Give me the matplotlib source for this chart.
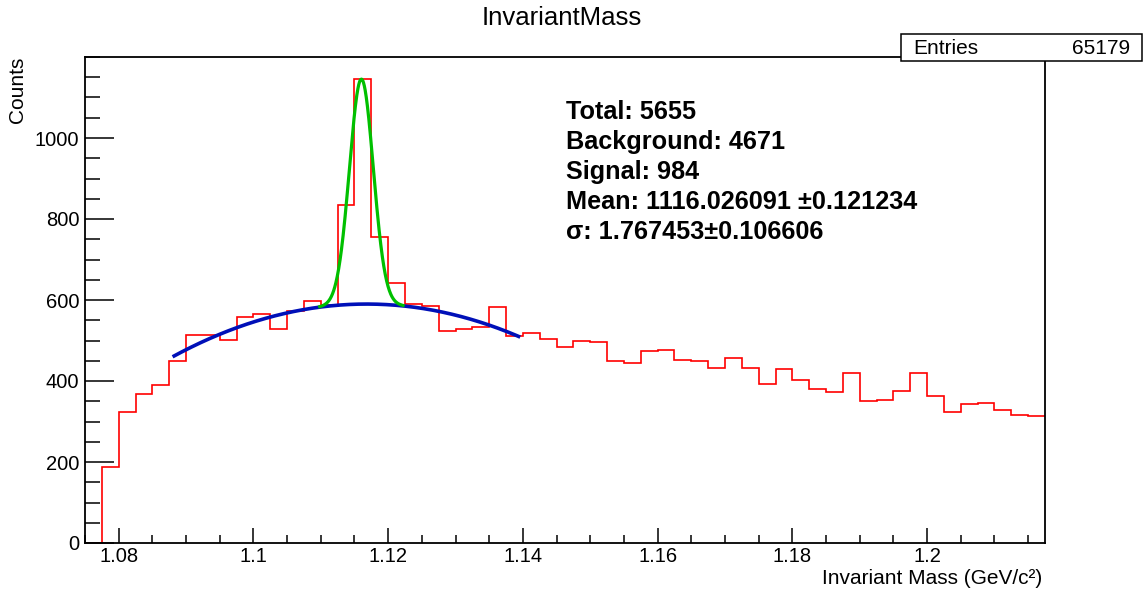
import numpy as np
import matplotlib.pyplot as plt
from matplotlib.ticker import FixedLocator, MultipleLocator
from matplotlib.patches import Rectangle

plt.rcParams['font.family'] = ['Liberation Sans', 'DejaVu Sans']

# histogram: 57 bins of 2.5 MeV starting at 1.075 GeV
x_lo = 1.075
bin_w = 0.0025
counts = [0, 187, 323, 367, 390, 449, 513, 513, 501, 557,
          565, 528, 574, 598, 588, 835, 1145, 756, 643, 590,
          586, 524, 528, 534, 583, 512, 518, 504, 485, 499,
          496, 450, 444, 474, 477, 452, 450, 432, 458, 433,
          393, 429, 402, 380, 372, 420, 351, 352, 375, 420,
          363, 323, 344, 346, 329, 315, 313]
edges = x_lo + bin_w * np.arange(len(counts) + 1)

# fit results (mass in GeV)
mean = 1.116026
sigma = 0.001767
n_signal = 984
bkg_top = 590.0
bkg_top_x = 1.1168
bkg_curv = -157000.0
bkg_range = (1.088, 1.1396)

text_lines = ['Total: 5655', 'Background: 4671', 'Signal: 984',
              'Mean: 1116.026091 \u00b10.121234', '\u03c3: 1.767453\u00b10.106606']
entries = 65179

xticks = [1.08, 1.10, 1.12, 1.14, 1.16, 1.18, 1.20]
xtick_labels = ['1.08', '1.1', '1.12', '1.14', '1.16', '1.18', '1.2']
yticks = [0, 200, 400, 600, 800, 1000]


def background(x):
    return bkg_top + bkg_curv * (x - bkg_top_x) ** 2


def total(x):
    amp = n_signal * bin_w / (sigma * np.sqrt(2 * np.pi))
    return background(x) + amp * np.exp(-0.5 * ((x - mean) / sigma) ** 2)


W, H = 1146, 594
fig = plt.figure(figsize=(W / 100, H / 100), dpi=100)
ax = fig.add_axes([85 / W, 1 - 543 / H, 960 / W, 486 / H])

ax.stairs(counts, edges, baseline=None, color='#ff0000', lw=1.2)

xb = np.linspace(bkg_range[0], bkg_range[1], 300)
ax.plot(xb, background(xb), color='#0010b8', lw=2.6, solid_capstyle='butt')
xg = np.linspace(mean - 3.5 * sigma, mean + 3.5 * sigma, 300)
ax.plot(xg, total(xg), color='#00c000', lw=2.3)

ax.set_xlim(x_lo, 1.2175)
ax.set_ylim(0, 1200)

ax.xaxis.set_major_locator(FixedLocator(xticks))
ax.set_xticklabels(xtick_labels)
ax.xaxis.set_minor_locator(MultipleLocator(0.005))
ax.yaxis.set_major_locator(FixedLocator(yticks))
ax.yaxis.set_minor_locator(MultipleLocator(50))
ax.tick_params(which='both', direction='in', top=False, right=False,
               labelsize=14.5, width=1.1, color='black')
ax.tick_params(axis='y', which='major', length=21, pad=4)
ax.tick_params(axis='y', which='minor', length=11)
ax.tick_params(axis='x', which='major', length=10.5, pad=3)
ax.tick_params(axis='x', which='minor', length=5.5)
for s in ax.spines.values():
    s.set_linewidth(1.3)

fig.text(562 / W, 1 - 18 / H, 'InvariantMass', ha='center', va='center', fontsize=18.5)
fig.text(18 / W, 1 - 57 / H, 'Counts', rotation=90, ha='center', va='top', fontsize=15)
fig.text(1042 / W, 1 - 578 / H, 'Invariant Mass (GeV/c\u00b2)', ha='right', va='center', fontsize=15)

for i, line in enumerate(text_lines):
    fig.text(566 / W, 1 - (119 + 30 * i) / H, line, ha='left', va='baseline',
             fontsize=18.2, fontweight='bold')

# stats box
box = Rectangle((901 / W, 1 - 61 / H), 241 / W, 27 / H, transform=fig.transFigure,
                facecolor='white', edgecolor='black', lw=1.1, zorder=5)
fig.patches.append(box)
fig.text(913 / W, 1 - 48 / H, 'Entries', ha='left', va='center', fontsize=15, zorder=6)
fig.text(1130 / W, 1 - 48 / H, str(entries), ha='right', va='center', fontsize=15, zorder=6)

plt.savefig('out.png', dpi=100)
